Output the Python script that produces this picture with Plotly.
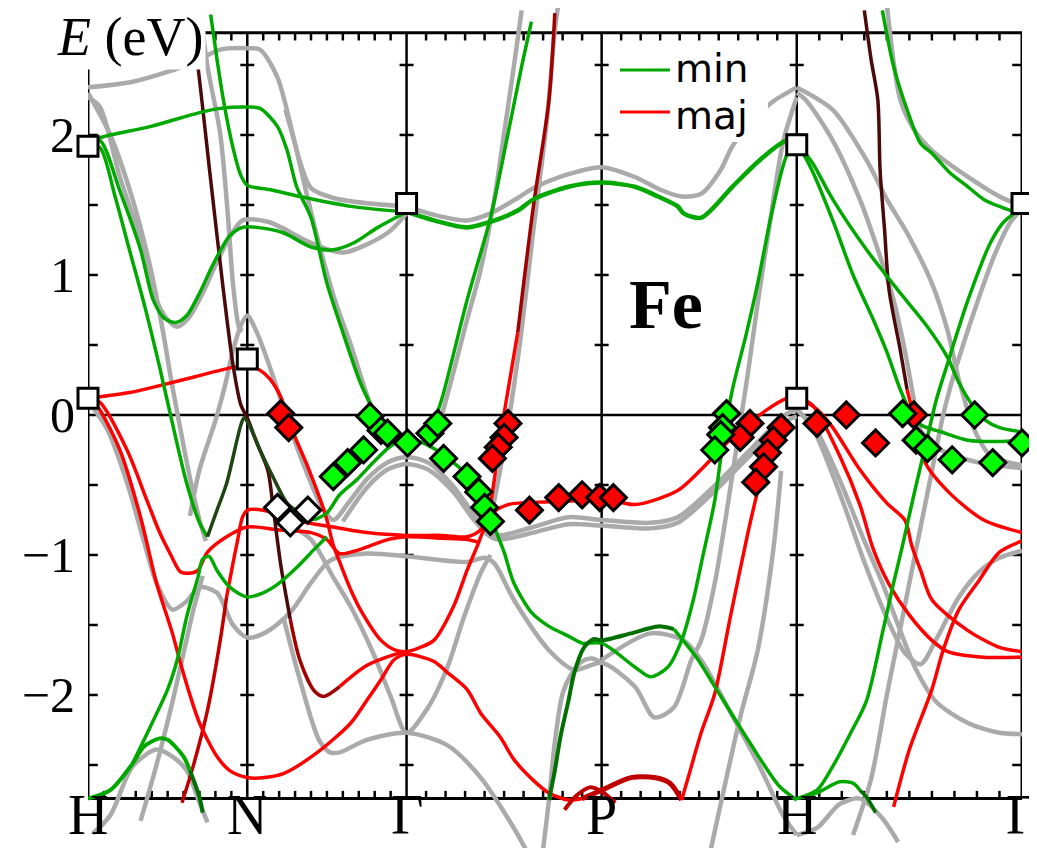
import numpy as np
import plotly.graph_objects as go

# ---------------- axis data ----------------
SYM_LABELS = ["H", "N", "Γ", "P", "H", "Γ"]
SYM_K = [0.0, 0.7071, 1.4142, 2.2802, 3.1463, 4.1463]   # path length, units of 2π/a
E_FRAME = (-2.74, 2.73)
E_VIEW = (-3.093, 2.907)
Y_TICK_VALUES = [-2, -1, 0, 1, 2]
Y_TICK_TEXT = ["−2", "−1", "0", "1", "2"]
E_MINOR = [-2.5, -2, -1.5, -1, -0.5, 0.5, 1, 1.5, 2, 2.5]

# ---------------- bands: (t, E); t = 0..5 runs H-N-Γ-P-H-Γ ----------------
# minority (green)
MIN_VALLEY = [(0, 1.93), (0.075, 1.96), (0.2, 1.6), (0.33, 1.18), (0.41, 0.82), (0.48, 0.69), (0.55, 0.66),
              (0.62, 0.71), (0.70, 0.87), (0.77, 1.04), (0.81, 1.13), (0.89, 1.28), (0.97, 1.34), (1.06, 1.34),
              (1.23, 1.30), (1.40, 1.20), (1.54, 1.18), (1.67, 1.23), (1.82, 1.34), (2.0, 1.45)]
MIN_STEEP_HN = [(0, 1.93), (0.075, 1.91), (0.17, 1.56), (0.26, 1.18), (0.36, 0.76), (0.45, 0.34), (0.52, -0.01),
                (0.62, -0.49), (0.70, -0.77), (0.75, -0.87)]
MIN_N_PEAK = [(0.75, -0.87), (0.81, -0.68), (0.87, -0.49), (0.96, -0.07), (0.98, -0.02), (1.02, -0.09),
              (1.08, -0.25), (1.16, -0.44), (1.25, -0.63), (1.33, -0.70), (1.42, -0.75)]
MIN_FLAT_TOP = [(0, 1.93), (0.075, 1.98), (0.39, 2.06), (0.70, 2.16), (0.83, 2.19), (1.0, 2.2), (1.08, 2.19),
                (1.19, 2.06), (1.25, 1.89), (1.31, 1.63), (1.40, 1.41), (1.50, 0.94), (1.60, 0.59), (1.71, 0.23),
                (1.79, 0.04), (1.84, -0.06)]
MIN_STEEP_N = [(0.77, 2.86), (0.81, 2.54), (0.85, 2.25), (0.91, 1.91), (0.96, 1.71), (1.0, 1.64), (1.14, 1.61),
               (1.33, 1.56), (1.65, 1.49), (2.0, 1.45)]
MIN_H_LOW = [(0, -2.74), (0.14, -2.68), (0.28, -2.49), (0.35, -2.37), (0.45, -2.31), (0.50, -2.32), (0.60, -2.44),
             (0.64, -2.54)]
MIN_H_LOW_DARK = [(0.64, -2.54), (0.70, -2.73), (0.72, -2.84)]
MIN_RISE_N = [(0.28, -2.49), (0.39, -2.23), (0.50, -1.96), (0.56, -1.75), (0.62, -1.44), (0.69, -1.16),
              (0.72, -1.03), (0.76, -1.01), (0.81, -1.11), (0.89, -1.23), (1.0, -1.30), (1.10, -1.27),
              (1.19, -1.21), (1.31, -1.09), (1.42, -0.96), (1.50, -0.87)]
MIN_GAMMA_P_H = [(1.42, -0.75), (1.50, -0.70), (1.58, -0.57), (1.69, -0.46), (1.79, -0.34), (1.88, -0.24),
                 (1.96, -0.18), (2.0, -0.16), (2.07, -0.19), (2.14, -0.24), (2.24, -0.34), (2.33, -0.45),
                 (2.40, -0.61), (2.45, -0.80), (2.50, -0.98), (2.55, -1.2), (2.64, -1.41), (2.73, -1.51),
                 (2.83, -1.58), (2.90, -1.63), (3.0, -1.63), (3.17, -1.8), (3.25, -1.87), (3.34, -1.8),
                 (3.41, -1.61), (3.47, -1.32), (3.52, -1.0), (3.58, -0.61), (3.62, -0.21), (3.67, 0.18),
                 (3.74, 0.57), (3.80, 0.94), (3.87, 1.43), (3.95, 1.86), (4.0, 1.95)]
MIN_P_RISE_DARK = [(2.73, -2.75), (2.76, -2.54), (2.79, -2.29), (2.83, -2.04), (2.86, -1.84), (2.91, -1.66),
                   (2.96, -1.6), (3.0, -1.61), (3.15, -1.56), (3.29, -1.51), (3.37, -1.53)]
MIN_P_H_LOW = [(3.37, -1.53), (3.49, -1.74), (3.58, -1.94), (3.75, -2.32), (3.91, -2.65), (4.0, -2.75)]
MIN_G_P_STEEP = [(2.12, -0.13), (2.18, 0.11), (2.31, 0.82), (2.43, 1.41), (2.52, 2.01), (2.59, 2.49), (2.64, 2.81)]
MIN_G_P_H_FLAT = [(2.0, 1.45), (2.14, 1.39), (2.31, 1.34), (2.43, 1.38), (2.57, 1.46), (2.65, 1.54), (2.83, 1.63),
                  (3.0, 1.66), (3.17, 1.63), (3.29, 1.56), (3.39, 1.49), (3.42, 1.44), (3.51, 1.41), (3.67, 1.63),
                  (3.81, 1.82), (3.95, 1.96), (4.0, 1.93)]
MIN_H_G_RISE = [(4.0, -2.74), (4.09, -2.68), (4.16, -2.51), (4.24, -2.27), (4.31, -2.04), (4.38, -1.56),
                (4.43, -1.2), (4.47, -0.93), (4.52, -0.57), (4.58, -0.16), (4.62, 0.11), (4.67, 0.37),
                (4.76, 0.82), (4.86, 1.23), (4.92, 1.38), (5.0, 1.48)]
MIN_H_BUMP = [(4.0, -2.74), (4.09, -2.7), (4.19, -2.62), (4.25, -2.63), (4.28, -2.68)]
MIN_H_BUMP_DARK = [(4.28, -2.68), (4.31, -2.73), (4.35, -2.84)]
MIN_H_G_STEEP = [(4.0, 1.95), (4.07, 1.74), (4.16, 1.39), (4.25, 1.0), (4.34, 0.68), (4.40, 0.45), (4.46, 0.18),
                 (4.50, 0.04), (4.55, -0.07), (4.64, -0.12), (4.76, -0.18), (4.90, -0.19), (5.0, -0.18)]
MIN_H_G_MID = [(4.0, 1.95), (4.07, 1.8), (4.16, 1.54), (4.31, 1.18), (4.46, 0.87), (4.58, 0.63), (4.67, 0.41),
               (4.72, 0.23), (4.78, 0.07), (4.84, -0.04), (4.90, -0.09), (5.0, -0.12)]
MIN_G_TOP_RIGHT = [(4.38, 2.89), (4.43, 2.49), (4.49, 2.18), (4.55, 1.94), (4.60, 1.87), (4.68, 1.73),
                   (4.76, 1.63), (4.83, 1.54), (4.90, 1.49), (4.98, 1.45), (5.0, 1.47)]

# majority (red)
MAJ_N_TOP = [(0, 0.12), (0.075, 0.13), (0.26, 0.16), (0.45, 0.21), (0.66, 0.27), (0.91, 0.34), (1.0, 0.35),
             (1.08, 0.32), (1.14, 0.26), (1.21, 0.13), (1.29, -0.13), (1.38, -0.37), (1.46, -0.61), (1.50, -0.75),
             (1.54, -0.93), (1.58, -1.05), (1.65, -1.25), (1.71, -1.39), (1.84, -1.61), (1.93, -1.68),
             (2.0, -1.69), (2.07, -1.66), (2.14, -1.61), (2.24, -1.37), (2.31, -1.11), (2.37, -0.91),
             (2.42, -0.71), (2.45, -0.46), (2.47, -0.25), (2.50, 0.01), (2.57, 0.59)]
MAJ_G_P_STEEP_DARK = [(2.57, 0.59), (2.65, 1.49), (2.73, 2.25), (2.76, 2.87)]
MAJ_N_FLAT_LOW = [(0.59, -2.77), (0.66, -2.51), (0.75, -2.11), (0.83, -1.61), (0.87, -1.30)]
MAJ_N_FLAT = [(0.87, -1.30), (0.91, -1.06), (0.94, -0.89), (0.97, -0.73), (1.0, -0.68), (1.10, -0.68),
              (1.33, -0.76), (1.54, -0.80), (1.75, -0.84), (2.0, -0.86), (2.18, -0.86), (2.31, -0.87),
              (2.38, -0.82), (2.43, -0.71), (2.52, -0.64), (2.73, -0.62), (2.90, -0.61), (3.0, -0.59),
              (3.17, -0.64), (3.39, -0.54), (3.51, -0.39), (3.67, -0.16), (3.85, 0.04), (3.95, 0.12), (4.0, 0.14)]
MAJ_H_VALLEY = [(0, 0.12), (0.075, 0.09), (0.245, -0.25), (0.37, -0.61), (0.45, -0.84), (0.52, -1.0),
                (0.58, -1.12), (0.64, -1.13), (0.69, -1.11), (0.75, -0.98), (0.87, -0.87), (1.0, -0.8),
                (1.19, -0.82), (1.40, -0.84), (1.50, -0.89), (1.58, -0.99), (1.71, -0.96), (1.88, -0.89),
                (2.0, -0.87), (2.18, -0.88), (2.31, -0.89), (2.37, -0.91)]
MAJ_H_DEEP = [(0, 0.12), (0.06, 0.06), (0.20, -0.25), (0.33, -0.73), (0.43, -1.2), (0.53, -1.56), (0.58, -1.77),
              (0.64, -2.0), (0.70, -2.2), (0.81, -2.44), (0.89, -2.54), (1.0, -2.59), (1.11, -2.59),
              (1.23, -2.56), (1.44, -2.41), (1.65, -2.2), (1.75, -2.04), (1.84, -1.89), (1.92, -1.75),
              (2.0, -1.71), (2.14, -1.76), (2.21, -1.84), (2.31, -1.96), (2.38, -2.13), (2.48, -2.3),
              (2.55, -2.46), (2.65, -2.61), (2.73, -2.70), (2.83, -2.75), (2.90, -2.74)]
MAJ_P_ARC = [(2.90, -2.74), (3.0, -2.68), (3.15, -2.59), (3.27, -2.59), (3.35, -2.63), (3.41, -2.75)]
MAJ_P_SMALL_ARC = [(2.81, -2.82), (2.87, -2.72), (2.94, -2.66), (3.0, -2.69), (3.07, -2.77)]
MAJ_P_H_RISE = [(3.41, -2.75), (3.46, -2.51), (3.51, -2.27), (3.58, -1.99), (3.66, -1.44), (3.75, -0.84),
                (3.80, -0.54), (3.85, -0.25), (3.89, -0.07)]
MAJ_N_STEEP_DARK = [(0.64, 2.89), (0.69, 2.49), (0.77, 1.68), (0.85, 0.89), (0.91, 0.36), (0.96, 0.07),
                    (1.0, -0.02), (1.06, -0.2), (1.13, -0.4), (1.16, -0.64), (1.21, -1.07), (1.27, -1.46)]
MAJ_N_STEEP_MID = [(1.27, -1.46), (1.33, -1.75), (1.42, -1.97), (1.48, -2.01), (1.58, -1.94)]
MAJ_N_STEEP_RED = [(1.58, -1.94), (1.75, -1.79), (1.96, -1.7), (2.0, -1.7)]
MAJ_H_G_A = [(4.0, 0.13), (4.07, 0.07), (4.19, -0.29), (4.28, -0.64), (4.34, -0.96), (4.41, -1.21), (4.50, -1.43),
             (4.60, -1.61), (4.67, -1.69), (4.83, -1.73), (5.0, -1.73)]
MAJ_H_G_B = [(4.0, 0.13), (4.09, 0.04), (4.16, -0.09), (4.28, -0.39), (4.40, -0.63), (4.48, -0.75),
             (4.51, -0.93), (4.55, -1.11), (4.60, -1.32), (4.76, -1.54), (4.90, -1.66), (5.0, -1.69)]
MAJ_H_G_TOP_DARK = [(4.30, 2.89), (4.33, 2.54), (4.36, 2.25), (4.37, 1.75), (4.39, 1.32), (4.41, 0.89),
                    (4.46, 0.46), (4.49, 0.18)]
MAJ_H_G_TOP_RED = [(4.49, 0.18), (4.52, -0.01), (4.57, -0.34), (4.68, -0.56), (4.83, -0.75), (5.0, -0.84)]
MAJ_H_G_RISE = [(4.43, -2.8), (4.50, -2.39), (4.60, -1.96), (4.65, -1.68), (4.72, -1.39), (4.81, -1.18),
                (4.90, -0.98), (5.0, -0.9)]

# reference calculation (gray)
GRAY_TOP = [(0, 2.34), (0.28, 2.38), (0.60, 2.49), (0.70, 2.54), (0.83, 2.61), (1.0, 2.62), (1.08, 2.61),
            (1.19, 2.41), (1.33, 1.81), (1.40, 1.62), (1.54, 1.55), (1.77, 1.51), (2.0, 1.49)]
GRAY_G_P_FLAT = [(2.0, 1.49), (2.14, 1.43), (2.31, 1.39), (2.43, 1.44), (2.57, 1.55), (2.65, 1.62), (2.83, 1.72),
                 (3.0, 1.77), (3.17, 1.70), (3.30, 1.61), (3.41, 1.56), (3.51, 1.58), (3.61, 1.75), (3.67, 1.92),
                 (3.76, 2.08), (3.87, 2.23), (4.0, 2.34)]
GRAY_VALLEY = [(0, 2.27), (0.075, 2.2), (0.2, 1.7), (0.36, 1.15), (0.43, 0.82), (0.50, 0.68), (0.56, 0.63),
               (0.63, 0.69), (0.72, 0.87), (0.80, 1.07), (0.89, 1.27), (0.97, 1.39), (1.13, 1.38), (1.40, 1.23),
               (1.60, 1.16), (1.88, 1.30), (2.0, 1.44)]
GRAY_STEEP_HN = [(0, 2.3), (0.14, 2.0), (0.28, 1.54), (0.39, 1.06), (0.47, 0.6), (0.53, 0.2), (0.58, -0.1),
                 (0.64, -0.45), (0.70, -0.75), (0.74, -0.9)]
GRAY_HN_LOW = [(0, 0.10), (0.12, -0.1), (0.25, -0.5), (0.35, -0.9), (0.43, -1.2), (0.53, -1.39), (0.62, -1.33),
               (0.70, -1.23), (0.81, -1.27), (0.91, -1.5), (1.0, -1.59), (1.12, -1.55), (1.27, -1.41),
               (1.40, -1.2), (1.52, -1.04), (1.75, -0.99), (2.0, -1.01), (2.31, -1.05), (2.40, -1.02),
               (2.45, -1.06), (2.55, -1.32), (2.73, -1.68), (2.86, -1.82), (3.0, -1.77), (3.17, -1.94),
               (3.27, -2.16), (3.37, -2.09), (3.46, -1.75), (3.51, -1.61), (3.58, -1.2), (3.65, -0.61),
               (3.70, -0.15), (3.75, 0.3), (3.80, 0.8), (3.86, 1.35), (3.93, 1.95), (4.0, 2.27)]
GRAY_DOME = [(0.64, -0.72), (0.70, -0.39), (0.80, -0.04), (0.86, 0.21), (0.91, 0.46), (0.96, 0.64), (1.0, 0.71),
             (1.06, 0.59), (1.13, 0.38), (1.21, 0.11), (1.29, -0.16), (1.38, -0.43), (1.46, -0.64), (1.54, -0.75),
             (1.64, -0.62), (1.75, -0.46), (1.88, -0.34), (2.0, -0.3), (2.11, -0.34), (2.24, -0.51),
             (2.34, -0.70), (2.42, -0.82), (2.47, -0.86), (2.65, -0.80), (2.83, -0.73), (3.0, -0.75),
             (3.25, -0.77), (3.39, -0.73), (3.59, -0.49), (3.76, -0.25), (3.95, 0.01), (4.0, 0.04)]
GRAY_DOME2 = [(1.60, -0.76), (1.75, -0.52), (1.88, -0.39), (2.0, -0.35), (2.11, -0.39), (2.24, -0.55),
              (2.34, -0.74), (2.42, -0.86), (2.47, -0.89), (2.65, -0.84), (2.83, -0.78), (3.0, -0.79),
              (3.25, -0.81), (3.39, -0.77), (3.59, -0.53), (3.76, -0.29), (3.95, -0.04), (4.0, -0.01)]
GRAY_U_G = [(1.27, -0.79), (1.40, -0.89), (1.54, -1.16), (1.65, -1.37), (1.79, -1.70), (1.90, -2.01),
            (2.0, -2.27), (2.11, -2.09), (2.21, -1.80), (2.29, -1.46), (2.38, -1.13), (2.43, -1.0)]
GRAY_CAP_G = [(1.23, -1.46), (1.33, -1.89), (1.45, -2.32), (1.52, -2.41), (1.58, -2.41), (1.75, -2.32),
              (2.0, -2.27), (2.21, -2.36), (2.38, -2.59), (2.55, -2.95), (2.61, -3.1)]
GRAY_G_P_STEEP = [(2.16, -0.11), (2.23, 0.25), (2.31, 0.68), (2.38, 1.04), (2.45, 1.54), (2.50, 2.01),
                  (2.55, 2.49), (2.59, 2.89)]
GRAY_RED_STEEP = [(2.43, -0.75), (2.48, -0.39), (2.54, 0.11), (2.59, 0.61), (2.65, 1.32), (2.72, 2.11),
                  (2.76, 2.75), (2.78, 2.95)]
GRAY_FLAT_TOP = [(1.24, 2.18), (1.31, 1.89), (1.36, 1.64), (1.46, 1.18), (1.55, 0.82), (1.65, 0.5),
                 (1.74, 0.18), (1.81, -0.04)]
GRAY_N_STEEP = [(0.70, 2.93), (0.75, 2.49), (0.83, 2.01), (0.88, 1.4), (0.91, 0.94), (0.95, 0.62), (0.97, 0.6)]
GRAY_H_BOTTOM = [(0.03, -2.99), (0.14, -2.86), (0.28, -2.51), (0.43, -2.39), (0.53, -2.44), (0.62, -2.54),
                 (0.70, -2.77), (0.75, -2.91)]
GRAY_HN_STEEP_LOW = [(0.33, -2.9), (0.43, -2.5), (0.53, -2.05), (0.60, -1.7), (0.66, -1.4), (0.72, -1.15)]
GRAY_PH_LOW = [(3.0, -1.75), (3.25, -1.56), (3.42, -1.61), (3.51, -1.75), (3.67, -2.15), (3.81, -2.51),
               (3.93, -2.86), (4.0, -3.0)]
GRAY_P_STEEP = [(2.70, -3.1), (2.73, -2.75), (2.76, -2.34), (2.80, -1.99), (2.85, -1.84), (2.90, -1.76),
                (2.95, -1.74), (3.0, -1.77)]
GRAY_PH_STEEP = [(3.56, -3.1), (3.71, -2.16), (3.80, -1.68), (3.88, -0.96), (3.92, -0.4)]
GRAY_HG1 = [(4.0, 0.04), (4.09, -0.12), (4.20, -0.5), (4.30, -0.9), (4.38, -1.2), (4.45, -1.5), (4.53, -1.82),
            (4.62, -2.05), (4.76, -2.2), (4.90, -2.27), (5.0, -2.28)]
GRAY_HG2 = [(4.0, 0.04), (4.07, -0.09), (4.20, -0.6), (4.30, -1.05), (4.40, -1.45), (4.48, -1.7), (4.55, -1.78),
            (4.62, -1.6), (4.72, -1.3), (4.81, -1.12), (4.90, -1.02), (5.0, -0.97)]
GRAY_HG3 = [(4.0, 2.34), (4.16, 2.18), (4.31, 1.82), (4.40, 1.54), (4.49, 1.3), (4.60, 0.94), (4.67, 0.6),
            (4.72, 0.25), (4.79, -0.11), (4.86, -0.29), (5.0, -0.36)]
GRAY_HG4 = [(4.0, 2.3), (4.04, 2.25), (4.16, 1.96), (4.28, 1.54), (4.36, 1.18), (4.43, 0.82), (4.48, 0.46),
            (4.52, 0.11), (4.55, -0.11), (4.64, -0.25), (4.81, -0.34), (5.0, -0.38)]
GRAY_HG5 = [(4.40, 2.93), (4.46, 2.25), (4.52, 2.04), (4.60, 1.89), (4.76, 1.7), (4.90, 1.56), (5.0, 1.49)]
GRAY_HG6 = [(4.25, -3.0), (4.33, -2.6), (4.40, -2.0), (4.45, -1.6), (4.50, -1.2), (4.55, -0.8), (4.60, -0.4),
            (4.65, 0.0), (4.70, 0.3), (4.79, 0.75), (4.88, 1.15), (4.95, 1.38), (5.0, 1.47)]
GRAY_H_BUMP = [(4.0, -3.0), (4.09, -2.95), (4.19, -2.78), (4.28, -2.74), (4.38, -2.88), (4.45, -3.05)]

# ---------------- measured points ----------------
SQUARE_T = [0, 0, 1, 2, 4, 4, 5]
SQUARE_E = [1.92, 0.12, 0.40, 1.51, 1.93, 0.12, 1.51]
WHITE_DIA_T = [1.19, 1.27, 1.38]
WHITE_DIA_E = [-0.66, -0.77, -0.68]
GREEN_DIA_T = [1.54, 1.63, 1.73, 1.77, 1.84, 1.88, 2.005, 2.12, 2.16, 2.19, 2.31, 2.37, 2.40, 2.43,
               3.64, 3.62, 3.61, 3.58, 4.47, 4.53, 4.58, 4.69, 4.79, 4.87, 5.0]
GREEN_DIA_E = [-0.44, -0.34, -0.25, -0.01, -0.11, -0.13, -0.2, -0.13, -0.06, -0.31, -0.44, -0.55, -0.66, -0.76,
               0.01, -0.09, -0.14, -0.25, 0.01, -0.18, -0.24, -0.32, 0.0, -0.34, -0.2]
RED_DIA_T = [1.21, 1.26, 2.52, 2.50, 2.47, 2.44, 2.63, 2.78, 2.90, 2.99, 3.06,
             3.76, 3.71, 3.92, 3.88, 3.85, 3.83, 3.79, 4.09, 4.22, 4.35, 4.52]
RED_DIA_E = [0.01, -0.09, -0.06, -0.16, -0.23, -0.31, -0.68, -0.59, -0.57, -0.59, -0.59,
             -0.06, -0.16, -0.09, -0.18, -0.27, -0.37, -0.48, -0.06, 0.0, -0.2, 0.0]

# ---------------- styling ----------------
GRAY = "#aaaaaa"
GREEN = "#00a800"
DKGREEN = "#007000"
VDKGREEN = "#1e4614"
RED = "#ff0000"
MIDRED = "#c00000"
DKRED = "#a00000"
VDKRED = "#4a0a0a"
SERIF = "Liberation Serif"
SANS = "DejaVu Sans"
LW = 3.5
GW = 4.5


def kpath(t):
    return np.interp(np.asarray(t, dtype=float), np.arange(len(SYM_K)), SYM_K)


fig = go.Figure()


def band(pts, color, width):
    t = [p[0] for p in pts]
    e = [p[1] for p in pts]
    fig.add_trace(go.Scatter(x=kpath(t), y=e, mode="lines",
                             line=dict(color=color, width=width, shape="spline", smoothing=0.8),
                             hoverinfo="skip", showlegend=False))


# frame tick marks (drawn first so that curves lie over them)
kin = [SYM_K[i] for i in range(1, 5)]
fig.add_trace(go.Scatter(x=[k for k in kin for _ in E_MINOR], y=E_MINOR * len(kin), mode="markers",
                         marker=dict(symbol="line-ew", size=10, line=dict(color="black", width=2.5)),
                         hoverinfo="skip", showlegend=False))
fig.add_trace(go.Scatter(x=[SYM_K[0]] * len(E_MINOR) + [SYM_K[-1]] * len(E_MINOR), y=E_MINOR * 2,
                         mode="markers",
                         marker=dict(symbol="line-ew", size=14, line=dict(color="black", width=2.5)),
                         hoverinfo="skip", showlegend=False))
tx, ty = [], []
tick_len = 0.055
for i in range(len(SYM_K) - 1):
    for j in range(1, 10):
        kk = float(kpath(i + j / 10))
        tx += [kk, kk, None, kk, kk, None]
        ty += [E_FRAME[0], E_FRAME[0] + tick_len, None, E_FRAME[1], E_FRAME[1] - tick_len, None]
fig.add_trace(go.Scatter(x=tx, y=ty, mode="lines", line=dict(color="black", width=2.5),
                         hoverinfo="skip", showlegend=False))

# gray bands
for pts in [GRAY_TOP, GRAY_G_P_FLAT, GRAY_VALLEY, GRAY_STEEP_HN, GRAY_HN_LOW, GRAY_DOME, GRAY_DOME2, GRAY_U_G,
            GRAY_CAP_G, GRAY_G_P_STEEP, GRAY_RED_STEEP, GRAY_FLAT_TOP, GRAY_N_STEEP, GRAY_H_BOTTOM,
            GRAY_HN_STEEP_LOW, GRAY_PH_LOW, GRAY_P_STEEP, GRAY_PH_STEEP, GRAY_HG1, GRAY_HG2, GRAY_HG3, GRAY_HG4,
            GRAY_HG5, GRAY_HG6, GRAY_H_BUMP]:
    band(pts, GRAY, GW)

# majority bands
for pts, col, w in [(MAJ_N_TOP, RED, LW), (MAJ_G_P_STEEP_DARK, DKRED, LW), (MAJ_N_FLAT_LOW, MIDRED, LW),
                    (MAJ_N_FLAT, RED, LW), (MAJ_H_VALLEY, RED, LW), (MAJ_H_DEEP, RED, LW),
                    (MAJ_P_ARC, MIDRED, 5), (MAJ_P_SMALL_ARC, MIDRED, 4), (MAJ_P_H_RISE, RED, LW),
                    (MAJ_N_STEEP_DARK, VDKRED, LW), (MAJ_N_STEEP_MID, DKRED, LW), (MAJ_N_STEEP_RED, RED, LW),
                    (MAJ_H_G_A, RED, LW), (MAJ_H_G_B, RED, LW), (MAJ_H_G_TOP_DARK, VDKRED, LW),
                    (MAJ_H_G_TOP_RED, RED, LW), (MAJ_H_G_RISE, RED, LW)]:
    band(pts, col, w)

# minority bands
for pts, col, w in [(MIN_VALLEY, GREEN, LW), (MIN_STEEP_HN, GREEN, LW), (MIN_N_PEAK, VDKGREEN, LW),
                    (MIN_FLAT_TOP, GREEN, LW), (MIN_STEEP_N, GREEN, LW), (MIN_H_LOW, GREEN, 4),
                    (MIN_H_LOW_DARK, DKGREEN, 4), (MIN_RISE_N, GREEN, LW), (MIN_GAMMA_P_H, GREEN, LW),
                    (MIN_P_RISE_DARK, DKGREEN, 4), (MIN_P_H_LOW, GREEN, LW), (MIN_G_P_STEEP, GREEN, LW),
                    (MIN_G_P_H_FLAT, GREEN, 4.5), (MIN_H_G_RISE, GREEN, LW), (MIN_H_BUMP, GREEN, LW),
                    (MIN_H_BUMP_DARK, DKGREEN, LW), (MIN_H_G_STEEP, GREEN, LW), (MIN_H_G_MID, GREEN, LW),
                    (MIN_G_TOP_RIGHT, GREEN, LW)]:
    band(pts, col, w)

# measured points
for tt, ee, fill in [(WHITE_DIA_T, WHITE_DIA_E, "white"), (RED_DIA_T, RED_DIA_E, "#ff0000"),
                     (GREEN_DIA_T, GREEN_DIA_E, "#00ff00")]:
    fig.add_trace(go.Scatter(x=kpath(tt), y=ee, mode="markers", cliponaxis=False,
                             marker=dict(symbol="diamond", size=20, color=fill, line=dict(color="black", width=3)),
                             hoverinfo="skip", showlegend=False))
fig.add_trace(go.Scatter(x=kpath(SQUARE_T), y=SQUARE_E, mode="markers", cliponaxis=False,
                         marker=dict(symbol="square", size=20, color="white", line=dict(color="black", width=3)),
                         hoverinfo="skip", showlegend=False))

# frame, symmetry lines, zero line
shapes = [dict(type="rect", xref="x", yref="y", x0=SYM_K[0], x1=SYM_K[-1], y0=E_FRAME[0], y1=E_FRAME[1],
               line=dict(color="black", width=3), layer="below")]
for k in kin:
    shapes.append(dict(type="line", xref="x", yref="y", x0=k, x1=k, y0=E_FRAME[0], y1=E_FRAME[1],
                       line=dict(color="black", width=2.5), layer="below"))
shapes.append(dict(type="line", xref="x", yref="y", x0=SYM_K[0], x1=SYM_K[-1], y0=0, y1=0,
                   line=dict(color="black", width=2.5), layer="below"))
# legend box and keys
shapes.append(dict(type="rect", xref="paper", yref="paper", x0=0.561, x1=0.728, y0=0.8405, y1=0.9595,
                   fillcolor="white", line=dict(width=0), layer="above"))
shapes.append(dict(type="line", xref="paper", yref="paper", x0=0.5696, x1=0.6231, y0=0.9262, y1=0.9262,
                   line=dict(color=GREEN, width=3), layer="above"))
shapes.append(dict(type="line", xref="paper", yref="paper", x0=0.5696, x1=0.6231, y0=0.8762, y1=0.8762,
                   line=dict(color=RED, width=3), layer="above"))

annotations = []
for lab, k in zip(SYM_LABELS, SYM_K):
    annotations.append(dict(x=k, y=E_VIEW[0], xref="x", yref="y", text=lab, showarrow=False,
                            font=dict(family=SERIF, size=56, color="black"), xanchor="center", yanchor="bottom"))
annotations.append(dict(x=0.045, y=0.9655, xref="paper", yref="paper", text="<i>E</i> (eV)", showarrow=False,
                        font=dict(family=SERIF, size=54, color="black"), bgcolor="white", borderpad=2,
                        xanchor="center", yanchor="middle"))
annotations.append(dict(x=float(kpath(3.33)), y=0.79, xref="x", yref="y", text="<b>Fe</b>", showarrow=False,
                        font=dict(family=SERIF, size=70, color="black"), xanchor="center", yanchor="middle"))
annotations.append(dict(x=0.6263, y=0.9274, xref="paper", yref="paper", text="min", showarrow=False,
                        font=dict(family=SANS, size=39, color="black"), xanchor="left", yanchor="middle"))
annotations.append(dict(x=0.6263, y=0.8726, xref="paper", yref="paper", text="maj", showarrow=False,
                        font=dict(family=SANS, size=39, color="black"), xanchor="left", yanchor="middle"))

# the page adds an 8 px body margin, so the figure is drawn 8 px smaller and offset accordingly
fig.update_layout(
    width=1029, height=840,
    margin=dict(l=80, r=15, t=0, b=0),
    paper_bgcolor="white", plot_bgcolor="white",
    xaxis=dict(range=[SYM_K[0], SYM_K[-1]], visible=False),
    yaxis=dict(range=list(E_VIEW), showgrid=False, zeroline=False, showline=False, ticks="",
               tickmode="array", tickvals=Y_TICK_VALUES, ticktext=Y_TICK_TEXT,
               tickfont=dict(family=SERIF, size=50, color="black"), ticklabelstandoff=12),
    shapes=shapes, annotations=annotations,
    showlegend=False,
)

fig.write_html("out.html")
